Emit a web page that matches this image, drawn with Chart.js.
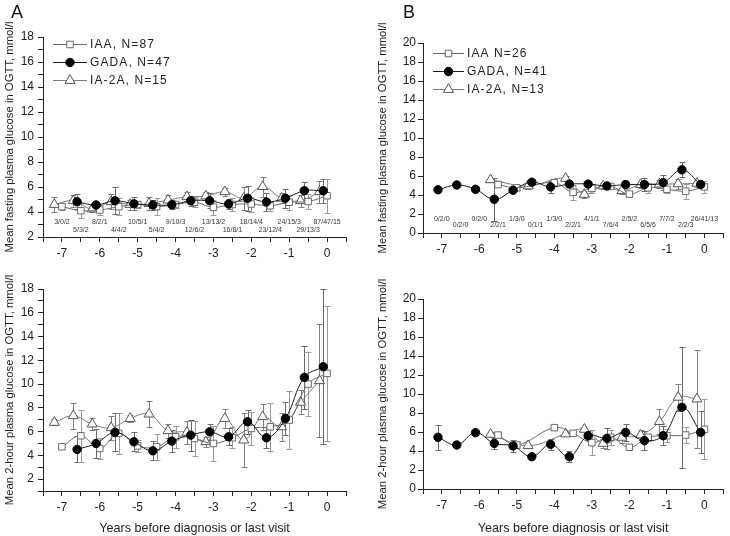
<!DOCTYPE html>
<html>
<head>
<meta charset="utf-8">
<script src="https://cdn.jsdelivr.net/npm/chart.js@4.4.1/dist/chart.umd.min.js"></script>
<style>
  body { margin: 0; background: #fff; }
  #wrap { position: relative; width: 730px; height: 536px; overflow: hidden; }
  canvas { position: absolute; }
  .lab { position: absolute; font: 18px "Liberation Sans", Arial, sans-serif; line-height: 18px; color: #111; }
</style>
</head>
<body>
<div id="wrap">
  <canvas id="aTop" width="365" height="270" style="left:0px;top:0px"></canvas>
  <canvas id="aBot" width="365" height="266" style="left:0px;top:270px"></canvas>
  <canvas id="bTop" width="365" height="270" style="left:365px;top:0px"></canvas>
  <canvas id="bBot" width="365" height="266" style="left:365px;top:270px"></canvas>
  <div class="lab" style="left:11px;top:3px">A</div>
  <div class="lab" style="left:403px;top:3px">B</div>
</div>
<script>
const FONT = '"Liberation Sans", Arial, sans-serif';

// time bins (years before diagnosis) and N per bin: IAA/GADA/IA-2A
const bins = [-7, -6.5, -6, -5.5, -5, -4.5, -4, -3.5, -3, -2.5, -2, -1.5, -1, -0.5, 0];
const countsA = ['3/0/2','5/3/2','8/2/1','4/4/2','10/5/1','5/4/2','9/10/3','12/6/2','13/13/2','16/8/1','18/14/4','23/12/4','24/15/3','29/13/3','87/47/15'];
const countsB = ['0/2/0','0/2/0','0/2/0','2/2/1','1/3/0','0/1/1','1/3/0','2/2/1','4/1/1','7/6/4','2/5/2','6/5/6','7/7/2','2/2/3','26/41/13'];

// panel A x positions (series are drawn slightly apart)
const xA_IAA  = [-7, -6.5, -6, -5.5, -5, -4.5, -4, -3.5, -3, -2.5, -2, -1.5, -1, -0.5, 0];
const xA_GADA = [-6.6, -6.1, -5.6, -5.1, -4.6, -4.1, -3.6, -3.1, -2.6, -2.1, -1.6, -1.1, -0.6, -0.1];
const xA_IA2A = [-7.2, -6.7, -6.2, -5.7, -5.2, -4.7, -4.2, -3.7, -3.2, -2.7, -2.2, -1.7, -1.2, -0.7, -0.2];

// A fasting
const aFastIAA     = [4.43, 4.1, 4.16, 4.43, 4.6, 4.43, 4.6, 4.78, 4.38, 4.6, 4.64, 4.5, 4.78, 4.84, 5.3];
const aFastIAA_sd  = [0.25, 0.6, 0.4, 0.7, 0.3, 0.7, 0.3, 0.4, 0.6, 0.5, 0.6, 0.4, 0.6, 0.6, 1.35];
const aFastGADA    = [4.82, 4.56, 4.9, 4.66, 4.56, 4.58, 4.9, 4.9, 4.64, 5.1, 4.8, 5.1, 5.7, 5.7];
const aFastGADA_sd = [0.6, 0.25, 1.08, 0.52, 0.4, 0.35, 0.38, 0.6, 0.4, 1.0, 0.7, 0.74, 0.72, 0.94];
const aFastIA2A    = [4.6, 4.9, 4.24, 4.82, 4.6, 4.68, 4.95, 5.22, 5.28, 5.62, 5.1, 6.03, 5.1, 4.9, 5.62];
const aFastIA2A_sd = [0.6, 0.5, 0.2, 0.6, 0.4, 0.5, 0.4, 0.4, 0.3, 0.3, 0.9, 0.8, 0.4, 0.5, 0.9];

// A 2-hour
const a2hIAA     = [4.72, 5.65, 4.58, 5.85, 4.8, 4.72, 5.56, 5.42, 5.0, 5.48, 6.27, 6.4, 6.97, 10.0, 10.9];
const a2hIAA_sd  = [0.15, 2.2, 0.85, 1.7, 0.5, 1.1, 0.9, 1.5, 1.5, 0.9, 1.4, 2.0, 2.45, 2.7, 5.7];
const a2hGADA    = [4.5, 5.0, 5.93, 5.14, 4.38, 5.2, 5.7, 5.98, 5.56, 6.83, 5.48, 7.1, 10.56, 11.46];
const a2hGADA_sd = [1.1, 1.2, 1.6, 0.8, 0.8, 0.9, 1.3, 0.7, 0.7, 1.0, 0.9, 1.4, 2.65, 6.5];
const a2hIA2A    = [6.77, 7.33, 6.63, 6.32, 7.1, 7.47, 6.07, 5.93, 5.14, 7.1, 5.28, 7.25, 6.4, 8.46, 10.28];
const a2hIA2A_sd = [0.25, 1.1, 0.5, 1.0, 0.3, 1.1, 0.6, 1.0, 0.4, 0.8, 2.3, 1.1, 1.2, 1.0, 4.77];

// panel B x positions
const xB_IAA  = [-5.5, -5, -4, -3.5, -3, -2.5, -2, -1.5, -1, -0.5, 0];
const xB_GADA = [-7.1, -6.6, -6.1, -5.6, -5.1, -4.6, -4.1, -3.6, -3.1, -2.6, -2.1, -1.6, -1.1, -0.6, -0.1];
const xB_IA2A = [-5.7, -4.7, -3.7, -3.2, -2.7, -2.2, -1.7, -1.2, -0.7, -0.2];

// B fasting
const bFastIAA     = [5.1, 4.75, 5.3, 4.28, 4.7, 4.9, 4.1, 4.76, 4.6, 4.4, 4.85];
const bFastIAA_sd  = [0.2, 0.2, 0.3, 0.8, 0.5, 0.2, 0.3, 0.5, 0.4, 0.8, 0.6];
const bFastGADA    = [4.55, 5.05, 4.6, 3.55, 4.5, 5.35, 4.85, 5.15, 5.15, 4.95, 5.1, 5.1, 5.3, 6.65, 5.1];
const bFastGADA_sd = [0, 0, 0, 2.25, 0, 0.2, 0.6, 0.3, 0.3, 0.2, 0.3, 0.7, 0.8, 0.8, 0.3];
const bFastIA2A    = [5.6, 4.95, 5.75, 4.07, 4.95, 4.45, 5.1, 5.15, 5.17, 5.23];
const bFastIA2A_sd = [0.2, 0.3, 0.3, 0.4, 0.3, 0.3, 0.4, 0.4, 0.5, 0.4];

// B 2-hour
const b2hIAA     = [5.68, 4.63, 6.46, 5.86, 4.88, 5.44, 4.39, 5.44, 5.61, 5.68, 6.28];
const b2hIAA_sd  = [0.2, 0.3, 0.1, 0.2, 1.3, 0.8, 0.2, 0.4, 0.7, 0.8, 3.16];
const b2hGADA    = [5.44, 4.63, 5.93, 4.8, 4.53, 3.4, 4.7, 3.4, 5.61, 5.33, 5.96, 5.09, 5.61, 8.6, 5.96];
const b2hGADA_sd = [1.3, 0, 0, 0.6, 0.6, 0, 0.6, 0.6, 0.5, 1.1, 0.9, 1.0, 1.0, 6.4, 2.2];
const b2hIA2A    = [5.75, 4.56, 5.79, 6.28, 4.8, 5.44, 5.68, 7.09, 9.65, 9.47];
const b2hIA2A_sd = [0.2, 0.1, 0.2, 0.2, 0.5, 0.6, 0.5, 1.3, 1.4, 5.2];

// series looks
const STY = {
  IAA:  { shape: 'rect', r: 4.6, line: '#6a6a6a', edge: '#6a6a6a', fill: '#fff', err: '#9a9a9a' },
  GADA: { shape: 'circle', r: 4.2, line: '#1a1a1a', edge: '#000', fill: '#000', err: '#6a6a6a' },
  IA2A: { shape: 'triangle', r: 5.8, line: '#7a7a7a', edge: '#555', fill: '#fff', err: '#808080' }
};

function series(st, xs, ys, sd) {
  return {
    data: xs.map((x, i) => ({ x: x, y: ys[i] })),
    err: sd,
    errColor: st.err,
    borderColor: st.line,
    borderWidth: 1,
    tension: 0.4,
    pointStyle: st.shape,
    pointRadius: st.r,
    pointBorderColor: st.edge,
    pointBackgroundColor: st.fill,
    pointBorderWidth: 1
  };
}

function drawMark(ctx, st, x, y) {
  ctx.save();
  ctx.fillStyle = st.fill; ctx.strokeStyle = st.edge; ctx.lineWidth = 1;
  ctx.beginPath();
  if (st.shape === 'circle') ctx.arc(x, y, st.r, 0, Math.PI * 2);
  else if (st.shape === 'rect') { const s = st.r * Math.SQRT1_2; ctx.rect(x - s, y - s, 2 * s, 2 * s); }
  else {
    const r = st.r;
    ctx.moveTo(x, y - r);
    ctx.lineTo(x + r * Math.sin(2 * Math.PI / 3), y - r * Math.cos(2 * Math.PI / 3));
    ctx.lineTo(x + r * Math.sin(4 * Math.PI / 3), y - r * Math.cos(4 * Math.PI / 3));
    ctx.closePath();
  }
  ctx.fill(); ctx.stroke();
  ctx.restore();
}

const errorBars = {
  id: 'errorBars',
  beforeDatasetsDraw(chart) {
    const ctx = chart.ctx, ys = chart.scales.y;
    chart.data.datasets.forEach((ds, i) => {
      const meta = chart.getDatasetMeta(i);
      ctx.save();
      ctx.strokeStyle = ds.errColor; ctx.lineWidth = 1;
      meta.data.forEach((pt, j) => {
        const e = ds.err[j];
        if (!e) return;
        const v = ds.data[j].y;
        const t = Math.round(ys.getPixelForValue(v + e)) + 0.5;
        const b = Math.round(ys.getPixelForValue(v - e)) + 0.5;
        const x = Math.round(pt.x) + 0.5;
        ctx.beginPath();
        ctx.moveTo(x, t); ctx.lineTo(x, b);
        ctx.moveTo(x - 3, t); ctx.lineTo(x + 3, t);
        ctx.moveTo(x - 3, b); ctx.lineTo(x + 3, b);
        ctx.stroke();
      });
      ctx.restore();
    });
  }
};

const countLabels = {
  id: 'countLabels',
  afterDatasetsDraw(chart, args, opts) {
    if (!opts.labels) return;
    const ctx = chart.ctx, xs = chart.scales.x, bottom = chart.chartArea.bottom;
    ctx.save();
    ctx.font = '7px ' + FONT;
    ctx.fillStyle = '#333'; ctx.textAlign = 'center'; ctx.textBaseline = 'middle';
    opts.labels.forEach((t, i) => {
      ctx.fillText(t, xs.getPixelForValue(bins[i]), bottom - (i % 2 ? opts.low : opts.high));
    });
    ctx.restore();
  }
};

const keyBox = {
  id: 'keyBox',
  afterDraw(chart, args, opts) {
    if (!opts.items) return;
    const ctx = chart.ctx;
    opts.items.forEach((it, i) => {
      const y = opts.y + i * 18;
      ctx.save();
      ctx.strokeStyle = it.st.line; ctx.lineWidth = 1;
      ctx.beginPath(); ctx.moveTo(opts.x, y + 0.5); ctx.lineTo(opts.x + opts.w, y + 0.5); ctx.stroke();
      ctx.restore();
      drawMark(ctx, it.st, opts.x + opts.w / 2, y + 0.5);
      ctx.save();
      ctx.font = '12px ' + FONT;
      ctx.letterSpacing = '1.1px';
      ctx.fillStyle = '#222'; ctx.textBaseline = 'middle';
      ctx.fillText(it.text, opts.x + opts.w + 3, y + 1);
      ctx.restore();
    });
  }
};

function makeChart(id, o) {
  return new Chart(document.getElementById(id), {
    type: 'line',
    data: { datasets: o.datasets },
    plugins: [errorBars, countLabels, keyBox],
    options: {
      responsive: false,
      animation: false,
      devicePixelRatio: 1,
      layout: { padding: { left: 0, top: o.padTop, right: o.padRight, bottom: 0 } },
      plugins: {
        legend: { display: false },
        tooltip: { enabled: false },
        countLabels: o.counts || {},
        keyBox: o.key || {}
      },
      scales: {
        x: {
          type: 'linear', min: -7.5, max: 0.5,
          afterFit: s => { s.height = o.xh; },
          ticks: {
            stepSize: 0.5, autoSkip: false, maxRotation: 0, padding: 4,
            color: '#222', font: { size: 12, family: FONT },
            callback: v => Math.abs(v - Math.round(v)) < 1e-6 ? String(Math.round(v)) : ''
          },
          grid: { drawOnChartArea: false, tickLength: 5, color: '#222' },
          border: { color: '#222' },
          title: {
            display: !!o.xTitle, text: o.xTitle || '', color: '#222',
            font: { size: 12.6, family: FONT }, padding: { top: 0, bottom: 0 }
          }
        },
        y: {
          min: o.yMin, max: o.yMax,
          afterFit: s => { s.width = o.yw; },
          ticks: {
            stepSize: o.yStep, autoSkip: false, padding: o.yPad,
            color: '#222', font: { size: 12, family: FONT },
            callback: v => v % 2 === 0 ? String(v) : ''
          },
          grid: { drawOnChartArea: false, tickLength: 5, color: '#222' },
          border: { color: '#222' },
          title: {
            display: true, text: o.yTitle, color: '#222',
            font: { size: 11.3, family: FONT }, padding: { top: o.titlePad, bottom: 0 }
          }
        }
      }
    }
  });
}

const FAST = 'Mean fasting plasma glucose in OGTT, mmol/l';
const TWOH = 'Mean 2-hour plasma glucose in OGTT, mmol/l';
const XT = 'Years before diagnosis or last visit';

makeChart('aTop', {
  datasets: [
    series(STY.GADA, xA_GADA, aFastGADA, aFastGADA_sd),
    series(STY.IAA, xA_IAA, aFastIAA, aFastIAA_sd),
    series(STY.IA2A, xA_IA2A, aFastIA2A, aFastIA2A_sd)
  ],
  padTop: 37, padRight: 19, xh: 33, yw: 43, yPad: 4, titlePad: 3,
  yMin: 2, yMax: 18, yStep: 1, yTitle: FAST,
  counts: { labels: countsA, high: 15, low: 7 },
  key: { x: 53, w: 34, y: 44, items: [
    { st: STY.IAA, text: 'IAA, N=87' },
    { st: STY.GADA, text: 'GADA, N=47' },
    { st: STY.IA2A, text: 'IA-2A, N=15' }
  ] }
});

makeChart('aBot', {
  datasets: [
    series(STY.GADA, xA_GADA, a2hGADA, a2hGADA_sd),
    series(STY.IAA, xA_IAA, a2hIAA, a2hIAA_sd),
    series(STY.IA2A, xA_IA2A, a2hIA2A, a2hIA2A_sd)
  ],
  padTop: 19, padRight: 19, xh: 45, yw: 43, yPad: 4, titlePad: 3,
  yMin: 1, yMax: 18, yStep: 1, yTitle: TWOH, xTitle: XT
});

makeChart('bTop', {
  datasets: [
    series(STY.GADA, xB_GADA, bFastGADA, bFastGADA_sd),
    series(STY.IAA, xB_IAA, bFastIAA, bFastIAA_sd),
    series(STY.IA2A, xB_IA2A, bFastIA2A, bFastIA2A_sd)
  ],
  padTop: 43, padRight: 0, xh: 37, yw: 58, yPad: 2, titlePad: 11,
  yMin: 0, yMax: 20, yStep: 2, yTitle: FAST,
  counts: { labels: countsB, high: 14, low: 8 },
  key: { x: 68, w: 31, y: 53, items: [
    { st: STY.IAA, text: 'IAA N=26' },
    { st: STY.GADA, text: 'GADA, N=41' },
    { st: STY.IA2A, text: 'IA-2A, N=13' }
  ] }
});

makeChart('bBot', {
  datasets: [
    series(STY.GADA, xB_GADA, b2hGADA, b2hGADA_sd),
    series(STY.IAA, xB_IAA, b2hIAA, b2hIAA_sd),
    series(STY.IA2A, xB_IA2A, b2hIA2A, b2hIA2A_sd)
  ],
  padTop: 29, padRight: 0, xh: 47, yw: 58, yPad: 2, titlePad: 11,
  yMin: 0, yMax: 20, yStep: 2, yTitle: TWOH, xTitle: XT
});
</script>
</body>
</html>
